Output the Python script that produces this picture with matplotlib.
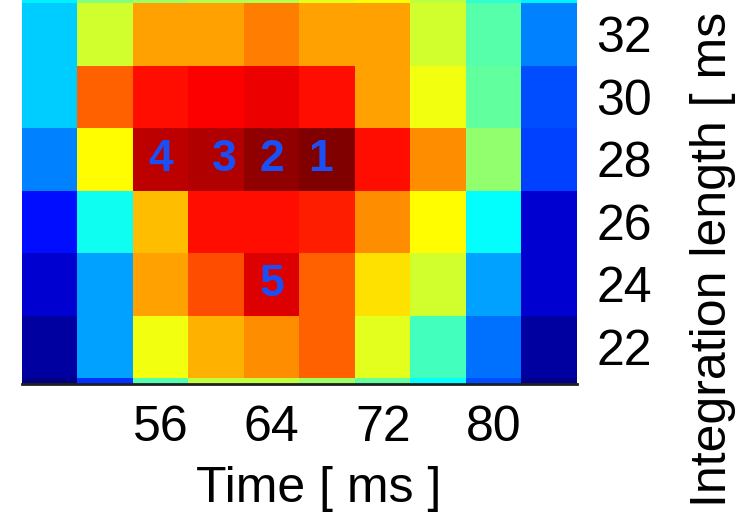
import numpy as np
import matplotlib
matplotlib.use("Agg")
import matplotlib.pyplot as plt
from matplotlib.colors import LinearSegmentedColormap

# time bins [ms] and integration lengths [ms] (top to bottom as shown)
time_ms = [48, 52, 56, 60, 64, 68, 72, 76, 80, 84]
integ_len = [34, 32, 30, 28, 26, 24, 22, 20]

# normalised score per cell, one row per integration length
row_34 = [0.36, 0.50, 0.53, 0.55, 0.55, 0.60, 0.62, 0.56, 0.42, 0.36]
row_32 = [0.325, 0.58, 0.717, 0.717, 0.75, 0.717, 0.717, 0.58, 0.46, 0.25]
row_30 = [0.325, 0.78, 0.86, 0.875, 0.8925, 0.86, 0.717, 0.61, 0.469, 0.203]
row_28 = [0.25, 0.625, 0.9375, 0.9525, 0.984, 1.0, 0.86, 0.7375, 0.516, 0.19]
row_26 = [0.14, 0.39, 0.6875, 0.86, 0.86, 0.844, 0.7375, 0.625, 0.375, 0.079]
row_24 = [0.079, 0.2825, 0.717, 0.797, 0.908, 0.78, 0.655, 0.58, 0.2825, 0.079]
row_22 = [0.032, 0.2825, 0.61, 0.7025, 0.7375, 0.78, 0.595, 0.4375, 0.235, 0.032]
row_20 = [0.0, 0.175, 0.455, 0.565, 0.565, 0.53, 0.47, 0.375, 0.2, 0.01]

# ranked cells
mark_text = ["1", "2", "3", "4", "5"]
mark_t = [67.5, 64, 60.6, 56, 64]
mark_len = [28, 28, 28, 28, 24]

ytick_vals = [22, 24, 26, 28, 30, 32]
xtick_vals = [56, 64, 72, 80]

# matlab style jet
jet_m = LinearSegmentedColormap.from_list(
    "jet_m",
    [(0.0, (0, 0, 0.5)), (0.125, (0, 0, 1)), (0.375, (0, 1, 1)),
     (0.625, (1, 1, 0)), (0.875, (1, 0, 0)), (1.0, (0.5, 0, 0))])

plt.rcParams["font.family"] = ["Liberation Sans", "DejaVu Sans"]
fs = 36

Z = np.array([row_34, row_32, row_30, row_28, row_26, row_24, row_22, row_20])
t = np.array(time_ms, dtype=float)
L = np.array(integ_len, dtype=float)
x_edges = np.append(t - 2, t[-1] + 2)
y_edges = np.append(L + 1, L[-1] - 1)

fig = plt.figure(figsize=(7.42, 5.13), dpi=100)
ax = fig.add_axes([22 / 742, 129 / 513, 555 / 742, 384 / 513])
ax.pcolormesh(x_edges, y_edges, Z, cmap=jet_m, vmin=0, vmax=1, shading="flat")
ax.set_xlim(46, 86)
ax.set_ylim(20.81, 33.1)

for s in ["top", "left", "right"]:
    ax.spines[s].set_visible(False)
ax.spines["bottom"].set_linewidth(2)
ax.spines["bottom"].set_color("#202020")

ax.set_xticks(xtick_vals)
ax.set_yticks(ytick_vals)
ax.yaxis.tick_right()
ax.tick_params(axis="x", length=0, pad=15, labelsize=fs)
ax.tick_params(axis="y", length=0, pad=14, labelsize=fs)

for txt, tx, ly in zip(mark_text, mark_t, mark_len):
    ax.text(tx, ly, txt, color="#1a4ff5", fontsize=32, fontweight="bold",
            ha="center", va="center")

fig.text(319 / 742, 11 / 513, "Time [ ms ]", fontsize=fs, ha="center", va="baseline")
fig.text(713 / 742, 6 / 513, "Integration length [ ms", fontsize=fs,
         rotation=90, ha="center", va="bottom")

fig.savefig("out.png", dpi=100)
